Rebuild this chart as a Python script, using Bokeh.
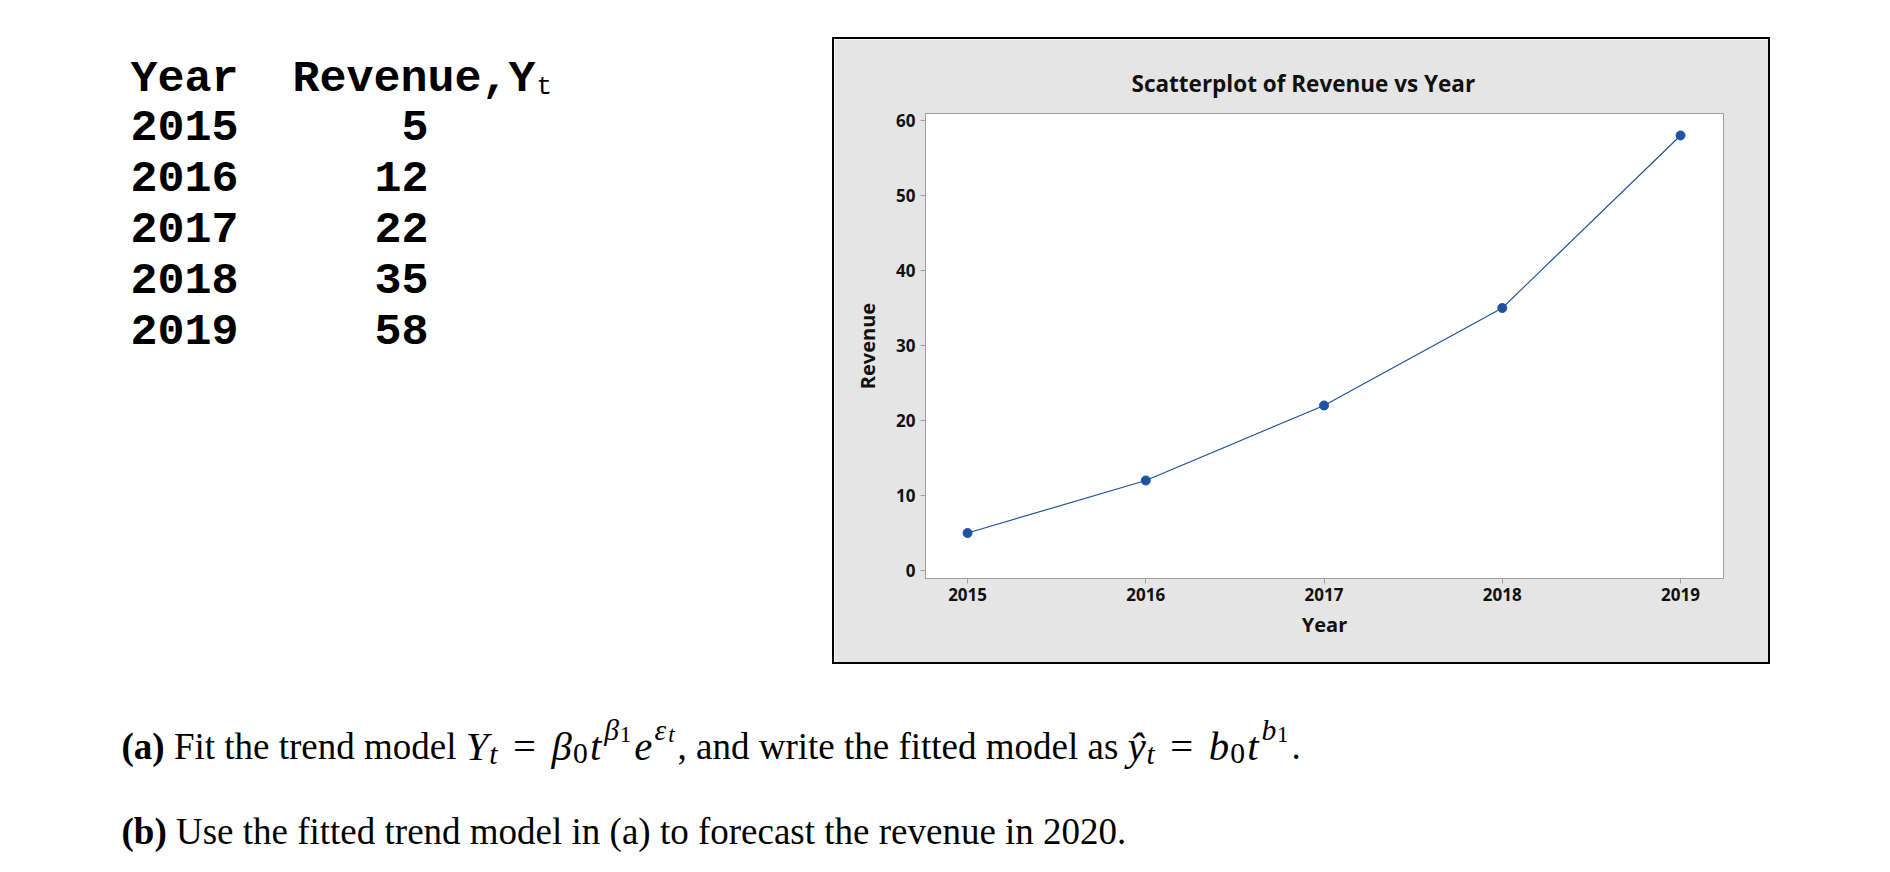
from bokeh.plotting import figure
from bokeh.models import FixedTicker, Spacer, ColumnDataSource, Range1d
from bokeh.layouts import row, column
from bokeh.embed import file_html
from bokeh.resources import INLINE
from bokeh.core.properties import value

# ---------------- data ----------------
years = [2015, 2016, 2017, 2018, 2019]
revenue = [5, 12, 22, 35, 58]
x_ticks = [2015, 2016, 2017, 2018, 2019]
y_ticks = [0, 10, 20, 30, 40, 50, 60]
chart_title = "Scatterplot of Revenue vs Year"
x_label = "Year"
y_label = "Revenue"
header_year = "Year"
header_rev = "Revenue,Y"
header_sub = "t"

BLUE = "#1F52A3"
GRAY_BG = "#E5E5E5"
FRAME = "#A0A0A0"


def strip(w, h):
    return Spacer(width=w, height=h, styles={"background-color": "black"})


# ---------------- table (left) ----------------
tab = figure(width=832, height=664, x_range=Range1d(0, 832), y_range=Range1d(664, 0),
             toolbar_location=None, output_backend="svg", min_border=0,
             x_axis_location=None, y_axis_location=None, outline_line_color=None)
tab.grid.visible = False

MONO = value("Liberation Mono")
row_base = [124.5 + i * 51 for i in range(len(years))]
tab.text(x=[130, 292], y=[79, 79], text=[header_year, header_rev], text_font=MONO,
         text_font_style="bold", text_font_size="45px", text_baseline="alphabetic",
         text_align="left", text_color="black")
tab.text(x=[536], y=[86], text=[header_sub], text_font=MONO, text_font_style="normal",
         text_font_size="26px", text_baseline="alphabetic", text_align="left", text_color="black")
tab.text(x=[130] * len(years), y=row_base, text=[str(v) for v in years], text_font=MONO,
         text_font_style="bold", text_font_size="45px", text_baseline="alphabetic",
         text_align="left", text_color="black")
tab.text(x=[428] * len(revenue), y=row_base, text=[str(v) for v in revenue], text_font=MONO,
         text_font_style="bold", text_font_size="45px", text_baseline="alphabetic",
         text_align="right", text_color="black")

# ---------------- chart ----------------
p = figure(width=934, height=623, x_range=Range1d(2014.764, 2019.241), y_range=Range1d(-1.07, 60.93),
           toolbar_location=None, output_backend="svg",
           min_border_left=91, min_border_right=45, min_border_top=74, min_border_bottom=84,
           background_fill_color="white", border_fill_color=GRAY_BG, title=chart_title)
p.title.text_font = "Open Sans"
p.title.text_font_size = "22.5px"
p.title.text_font_style = "bold"
p.title.text_color = "#111111"
p.title.align = "left"
p.title.offset = 206
p.title.standoff = 29
p.grid.visible = False
p.outline_line_color = FRAME
p.outline_line_width = 1

p.xaxis.ticker = FixedTicker(ticks=x_ticks)
p.yaxis.ticker = FixedTicker(ticks=y_ticks)
for ax in (p.xaxis, p.yaxis):
    ax.minor_tick_line_color = None
    ax.major_tick_out = 5
    ax.major_tick_in = 0
    ax.axis_line_color = FRAME
    ax.major_tick_line_color = FRAME
    ax.major_label_text_font = "Open Sans"
    ax.major_label_text_font_style = "bold"
    ax.major_label_text_font_size = "17px"
    ax.major_label_text_color = "#111111"
    ax.axis_label_text_font = "Open Sans"
    ax.axis_label_text_font_style = "bold"
    ax.axis_label_text_font_size = "20px"
    ax.axis_label_text_color = "#111111"
p.xaxis.axis_label = x_label
p.yaxis.axis_label = y_label
p.xaxis.major_label_standoff = 4
p.yaxis.major_label_standoff = 5
p.xaxis.axis_label_standoff = 7
p.yaxis.axis_label_standoff = 12

src = ColumnDataSource(dict(year=years, revenue=revenue))
p.line("year", "revenue", source=src, line_color=BLUE, line_width=1.2)
p.scatter("year", "revenue", source=src, size=9, fill_color=BLUE, line_color=BLUE)

# black frame around the chart panel
chart_box = column(strip(938, 2),
                   row(strip(2, 623), p, strip(2, 623)),
                   strip(938, 2))

# ---------------- question text (bottom) ----------------
FS = 37.0
W_N = {' ': 250, '(': 333, ')': 333, ',': 250, '.': 250, '=': 564, 'a': 444, 'b': 500, 'c': 444,
       'd': 500, 'e': 444, 'f': 333, 'h': 500, 'i': 278, 'l': 278, 'm': 778, 'n': 500, 'o': 500,
       'r': 333, 's': 389, 't': 278, 'u': 500, 'v': 500, 'w': 722, 'y': 500, 'F': 556, 'U': 722}
for d in "0123456789":
    W_N[d] = 500
W_B = {'(': 333, ')': 333, 'a': 500, 'b': 556, ' ': 250}
W_I = {'Y': 556, 't': 278, 'e': 444, 'b': 500, '\u0177': 444, '\u03b2': 500, '\u03b5': 440, ' ': 250}
WIDTHS = {"normal": W_N, "bold": W_B, "italic": W_I}

M = 1.1     # math base size
S = 0.8     # script size
SS = 0.62   # script-of-script size
# runs: (text, style, scale, baseline shift in em, extra gap before in em)
line_a = [
    ("(a)", "bold", 1.0, 0.0, 0.0),
    (" Fit the trend model ", "normal", 1.0, 0.0, 0.0),
    ("Y", "italic", M, 0.0, 0.0),
    ("t", "italic", S, 0.2, 0.02),
    ("=", "normal", M, 0.0, 0.42),
    ("\u03b2", "italic", M, 0.0, 0.42),
    ("0", "normal", S, 0.2, 0.03),
    ("t", "italic", M, 0.0, 0.06),
    ("\u03b2", "italic", S, -0.45, 0.08),
    ("1", "normal", SS, -0.32, 0.02),
    ("e", "italic", M, 0.0, 0.08),
    ("\u03b5", "italic", S, -0.45, 0.06),
    ("t", "italic", SS, -0.32, 0.02),
    (", and write the fitted model as ", "normal", 1.0, 0.0, 0.08),
    ("\u0177", "italic", M, 0.0, 0.0),
    ("t", "italic", S, 0.2, 0.02),
    ("=", "normal", M, 0.0, 0.42),
    ("b", "italic", M, 0.0, 0.42),
    ("0", "normal", S, 0.2, 0.03),
    ("t", "italic", M, 0.0, 0.06),
    ("b", "italic", S, -0.45, 0.08),
    ("1", "normal", SS, -0.32, 0.02),
    (".", "normal", 1.0, 0.0, 0.08),
]
line_b = [
    ("(b)", "bold", 1.0, 0.0, 0.0),
    (" Use the fitted trend model in (a) to forecast the revenue in 2020.", "normal", 1.0, 0.0, 0.0),
]


def layout_runs(runs, x0, base):
    xs, ys, ts, sizes, styles = [], [], [], [], []
    x = x0
    for text, style, scale, shift, gap in runs:
        fs = FS * scale
        x += gap * FS
        w = WIDTHS[style]
        lead = len(text) - len(text.lstrip(" "))
        xs.append(x + lead * w[' '] / 1000.0 * fs)
        ys.append(base + shift * FS)
        ts.append(text.strip(" "))
        sizes.append("%.1fpx" % fs)
        styles.append(style)
        x += sum(w.get(c, 500) for c in text) / 1000.0 * fs
    return xs, ys, ts, sizes, styles


q = figure(width=1890, height=208, x_range=Range1d(0, 1890), y_range=Range1d(872, 664),
           toolbar_location=None, output_backend="svg", min_border=0,
           x_axis_location=None, y_axis_location=None, outline_line_color=None)
q.grid.visible = False
for runs, base in ((line_a, 746), (line_b, 831)):
    xs, ys, ts, sizes, styles = layout_runs(runs, 121, base)
    qs = ColumnDataSource(dict(x=xs, y=ys, text=ts, size=sizes, style=styles))
    q.text(x="x", y="y", text="text", source=qs, text_font=value("Liberation Serif"),
           text_font_size="size", text_font_style="style", text_baseline="alphabetic",
           text_align="left", text_color="black")

layout = column(row(tab, column(Spacer(width=938, height=37), chart_box)), q)
open("out.html", "w").write(file_html(layout, INLINE))
